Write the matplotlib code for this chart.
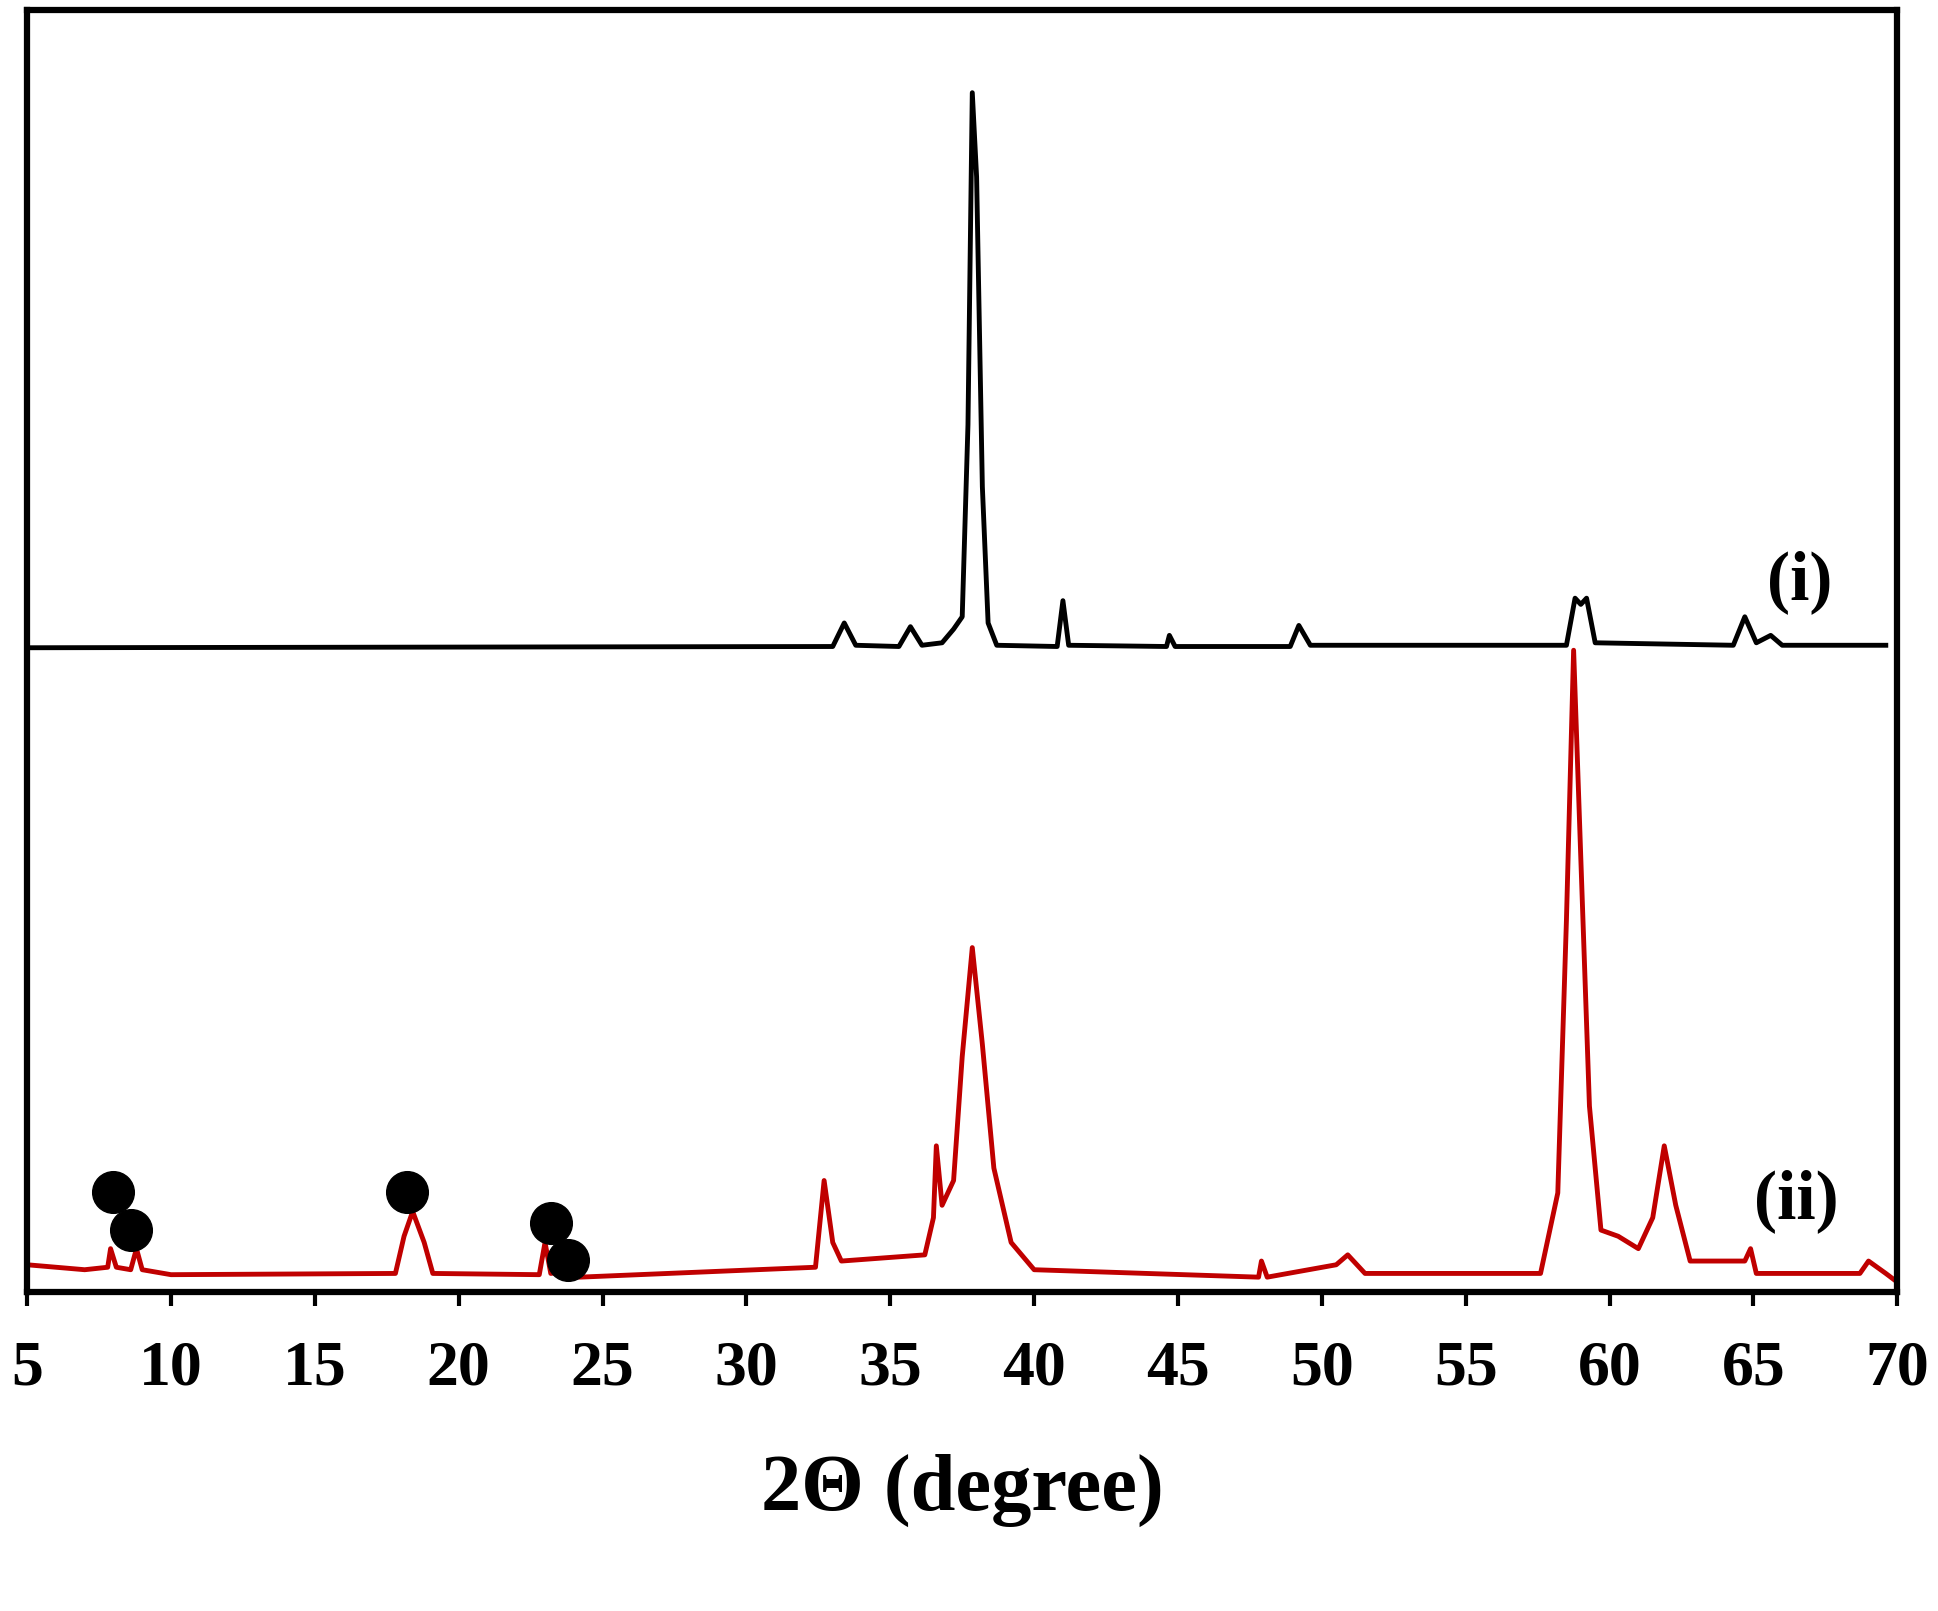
import matplotlib.pyplot as plt

# curve (i), black
x_i = [5, 33.0, 33.4, 33.8, 35.3, 35.7, 36.1, 36.8, 37.2, 37.5, 37.7, 37.85, 38.0, 38.2, 38.4, 38.7,
       40.8, 41.0, 41.2, 44.6, 44.7, 44.9, 48.9, 49.2, 49.6, 58.5, 58.8, 59.0, 59.2, 59.5,
       64.3, 64.7, 65.1, 65.6, 66.0, 69.6]
y_i = [520, 521, 540, 522, 521, 537, 522, 524, 535, 545, 700, 968, 900, 650, 540, 522,
       521, 558, 522, 521, 530, 521, 521, 538, 522, 522, 560, 555, 560, 524,
       522, 545, 524, 530, 522, 522]

# curve (ii), red
x_ii = [5, 7, 7.8, 7.9, 8.1, 8.6, 8.8, 9.0, 10, 17.8, 18.1, 18.4, 18.8, 19.1, 22.8, 23.0, 23.2,
        24, 24.2, 32.4, 32.7, 33.0, 33.3, 36.2, 36.5, 36.6, 36.8, 37.2, 37.5, 37.85, 38.2,
        38.6, 39.2, 40, 47.8, 47.9, 48.1, 50.5, 50.9, 51.5, 57.6, 58.2, 58.5, 58.75, 59.0,
        59.3, 59.7, 60.3, 61, 61.5, 61.9, 62.3, 62.8, 64.7, 64.9, 65.1, 68.7, 69.0, 69.6, 70]
y_ii = [22, 18, 20, 35, 20, 18, 35, 18, 14, 15, 45, 65, 40, 15, 14, 40, 15,
        18, 12, 20, 90, 40, 25, 30, 60, 118, 70, 90, 190, 278, 200,
        100, 40, 18, 12, 25, 12, 22, 30, 15, 15, 80, 300, 518, 350,
        150, 50, 45, 35, 60, 118, 70, 25, 25, 35, 15, 15, 25, 15, 8]

# markers
dot_x = [8.0, 8.6, 18.2, 23.2, 23.8]
dot_y = [81, 50, 81, 56, 26]

ticks = list(range(5, 71, 5))

plt.rcParams['font.family'] = ['Liberation Serif', 'DejaVu Serif']
fig = plt.figure(figsize=(19.38, 16.11), dpi=100)
ax = fig.add_axes([0.014, 0.198, 0.965, 0.796])
ax.plot(x_i, y_i, color='black', lw=3.5)
ax.plot(x_ii, y_ii, color='#c00000', lw=3.5)
ax.plot(dot_x, dot_y, 'o', color='black', markersize=30, zorder=5)
ax.text(66.6, 573, '(i)', fontsize=50, fontweight='bold', ha='center', va='center')
ax.text(66.5, 73, '(ii)', fontsize=50, fontweight='bold', ha='center', va='center')
ax.set_xlim(5, 70)
ax.set_ylim(0, 1035)
ax.set_xticks(ticks)
ax.set_yticks([])
ax.tick_params(axis='x', direction='out', length=10, width=3, labelsize=46, pad=25)
for lab in ax.get_xticklabels():
    lab.set_fontweight('bold')
for s in ax.spines.values():
    s.set_linewidth(4.5)
ax.set_xlabel('2Θ (degree)', fontsize=58, fontweight='bold', labelpad=40)
fig.savefig('out.png')
